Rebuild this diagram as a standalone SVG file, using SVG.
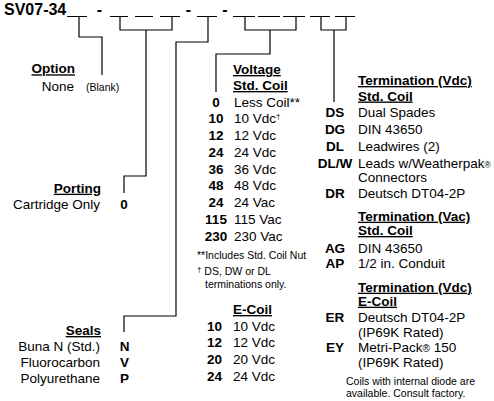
<svg xmlns="http://www.w3.org/2000/svg" width="494" height="401" viewBox="0 0 494 401">
<style>
text{font-family:"Liberation Sans",Arial,sans-serif;fill:#000;font-size:13.5px}
.b{font-weight:bold}
.h{font-weight:bold;text-decoration:underline}
.m{text-anchor:middle;font-weight:bold}
.r{text-anchor:end}
.s{font-size:10.5px}
.ln{fill:none;stroke:#000;stroke-width:1.2}
</style>
<rect width="494" height="401" fill="#fff"/>
<g id="title">
<text x="4" y="15" class="b" style="font-size:16px">SV07-34</text>
<text x="99.5" y="15" class="b" style="font-size:16px;text-anchor:middle">-</text>
<text x="188.5" y="15" class="b" style="font-size:16px;text-anchor:middle">-</text>
<text x="225" y="15" class="b" style="font-size:16px;text-anchor:middle">-</text>
<path class="ln" d="M67,16.5H87M110,16.5H128M135,16.5H153M160,16.5H180M197,16.5H217M233,16.5H255M258,16.5H280M283,16.5H305M310,16.5H330M335,16.5H355"/>
</g>
<g id="connectors">
<path class="ln" d="M79,17V37H102V75"/>
<path class="ln" d="M120,17V30H172V17M146,30V176H124V193"/>
<path class="ln" d="M208,17V42H176V316H124V332"/>
<path class="ln" d="M245,17V30H296V17M270,30V54H216V92"/>
<path class="ln" d="M321,17V30H346V17M334,30V102"/>
</g>
<g id="option">
<text x="75" y="73.3" class="h r">Option</text>
<text x="74" y="91" class="r">None</text>
<text x="86" y="91" class="s">(Blank)</text>
</g>
<g id="porting">
<text x="101" y="192.7" class="h r">Porting</text>
<text x="100" y="209.3" class="r">Cartridge Only</text>
<text x="124" y="209.3" class="m">0</text>
</g>
<g id="seals">
<text x="101" y="335" class="h r">Seals</text>
<text x="100" y="351" class="r">Buna N (Std.)</text>
<text x="100" y="367.3" class="r">Fluorocarbon</text>
<text x="100" y="383.3" class="r">Polyurethane</text>
<text x="124.5" y="351" class="m">N</text>
<text x="124.5" y="367.3" class="m">V</text>
<text x="124.5" y="383.3" class="m">P</text>
</g>
<g id="voltage">
<text x="233" y="74" class="h">Voltage</text>
<text x="233" y="90" class="h">Std. Coil</text>
<text x="216" y="106.5" class="m">0</text><text x="234" y="106.5">Less Coil**</text>
<text x="216" y="123.2" class="m">10</text><text x="234" y="123.2">10 Vdc<tspan style="font-size:8px" dy="-4">†</tspan></text>
<text x="216" y="140" class="m">12</text><text x="234" y="140">12 Vdc</text>
<text x="216" y="156.7" class="m">24</text><text x="234" y="156.7">24 Vdc</text>
<text x="216" y="173.5" class="m">36</text><text x="234" y="173.5">36 Vdc</text>
<text x="216" y="190.2" class="m">48</text><text x="234" y="190.2">48 Vdc</text>
<text x="216" y="207" class="m">24</text><text x="234" y="207">24 Vac</text>
<text x="216" y="224" class="m">115</text><text x="234" y="224">115 Vac</text>
<text x="216" y="241" class="m">230</text><text x="234" y="241">230 Vac</text>
<text x="197" y="259" class="s">**Includes Std. Coil Nut</text>
<text x="197" y="275" class="s"><tspan style="font-size:8px" dy="-3">†</tspan><tspan dy="3"> DS, DW or DL</tspan><tspan x="205" y="287.5">terminations only.</tspan></text>
</g>
<g id="ecoil">
<text x="233" y="314" class="h">E-Coil</text>
<text x="214.5" y="330.7" class="m">10</text><text x="233" y="330.7">10 Vdc</text>
<text x="214.5" y="347.3" class="m">12</text><text x="233" y="347.3">12 Vdc</text>
<text x="214.5" y="364" class="m">20</text><text x="233" y="364">20 Vdc</text>
<text x="214.5" y="380.5" class="m">24</text><text x="233" y="380.5">24 Vdc</text>
</g>
<g id="termination-vdc">
<text x="358" y="85" class="h">Termination (Vdc)<tspan x="358" y="100.5">Std. Coil</tspan></text>
<text x="335" y="117.3" class="m">DS</text><text x="358" y="117.3">Dual Spades</text>
<text x="335" y="134" class="m">DG</text><text x="358" y="134">DIN 43650</text>
<text x="335" y="151" class="m">DL</text><text x="358" y="151">Leadwires (2)</text>
<text x="335" y="167.5" class="m">DL/W</text><text x="358" y="167.5">Leads w/Weatherpak<tspan style="font-size:8.5px">®</tspan><tspan x="358" y="181.5">Connectors</tspan></text>
<text x="335" y="198" class="m">DR</text><text x="358" y="198">Deutsch DT04-2P</text>
</g>
<g id="termination-vac">
<text x="358" y="220.7" class="h">Termination (Vac)<tspan x="358" y="235">Std. Coil</tspan></text>
<text x="335" y="252.7" class="m">AG</text><text x="358" y="252.7">DIN 43650</text>
<text x="335" y="267.7" class="m">AP</text><text x="358" y="267.7">1/2 in. Conduit</text>
</g>
<g id="termination-ecoil">
<text x="358" y="291.7" class="h">Termination (Vdc)<tspan x="358" y="305.7">E-Coil</tspan></text>
<text x="335" y="321.7" class="m">ER</text><text x="358" y="321.7">Deutsch DT04-2P<tspan x="358" y="336.7">(IP69K Rated)</tspan></text>
<text x="335" y="351.7" class="m">EY</text><text x="358" y="351.7">Metri-Pack<tspan style="font-size:10px">®</tspan> 150<tspan x="358" y="366.7">(IP69K Rated)</tspan></text>
<text x="346" y="385" class="s">Coils with internal diode are<tspan x="346" y="396.7">available. Consult factory.</tspan></text>
</g>
</svg>
